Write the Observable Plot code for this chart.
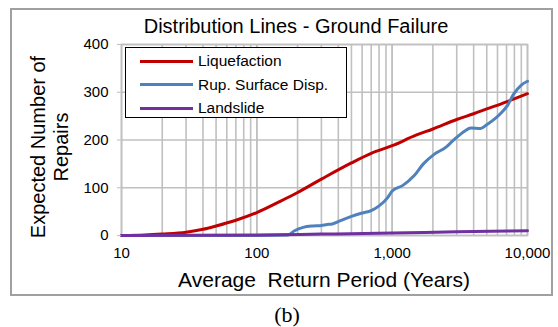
<!DOCTYPE html>
<html>
<head>
<meta charset="utf-8">
<script src="https://cdn.jsdelivr.net/npm/d3@7"></script>
<script src="https://cdn.jsdelivr.net/npm/@observablehq/plot@0.6"></script>
<style>
  body { margin:0; background:#fff; }
  #wrap { position:relative; width:558px; height:327px; font-family:"Liberation Sans", Arial, sans-serif; color:#000; }
  #wrap svg { position:absolute; left:0; top:0; }
  .abs { position:absolute; white-space:nowrap; }
</style>
</head>
<body>
<div id="wrap"></div>
<script>
// ---- data ----
const liqX = [10, 15, 20, 30, 40, 50, 70, 100, 150, 200, 300, 500, 700, 1000, 1500, 2000, 3000, 4000, 5000, 7000, 10000];
const liqY = [0, 1, 3, 7, 13, 20, 32, 48, 72, 90, 118, 152, 172, 188, 210, 223, 243, 255, 265, 280, 297];

const rsdX = [10, 100, 170, 190, 220, 260, 300, 330, 360, 415, 500, 600, 700, 800, 930, 1000, 1200, 1450, 1700, 2040, 2500, 2800, 3450, 3800, 4500, 5000, 5600, 6300, 7100, 7900, 9000, 10000];
const rsdY = [0, 0, 1, 10, 17, 20, 21, 23, 24, 31, 40, 47, 52, 62, 80, 93, 105, 125, 150, 170, 185, 198, 219, 225, 224, 232, 242, 255, 272, 296, 315, 323];

const lsX = [10, 100, 300, 1000, 3000, 10000];
const lsY = [0, 1, 3, 5, 8, 10];

const seriesNames = ["Liquefaction", "Rup. Surface Disp.", "Landslide"];
const seriesColors = ["#C00000", "#4F81BD", "#7030A0"];

const yTicks = [0, 100, 200, 300, 400];
const xTicks = [10, 100, 1000, 10000];

// ---- build table ----
const rows = [];
liqX.forEach((x, i) => rows.push({x, y: liqY[i], s: seriesNames[0]}));
rsdX.forEach((x, i) => rows.push({x, y: rsdY[i], s: seriesNames[1]}));
lsX.forEach((x, i) => rows.push({x, y: lsY[i], s: seriesNames[2]}));

const minor = [];
for (const d of [10, 100, 1000]) for (let k = 1; k <= 10; k++) minor.push(d * k);

const chart = Plot.plot({
  width: 558,
  height: 327,
  marginLeft: 121,
  marginRight: 31,
  marginTop: 44,
  marginBottom: 92,
  x: { type: "log", domain: [10, 10000] },
  y: { domain: [0, 400] },
  color: { domain: seriesNames, range: seriesColors },
  style: { fontFamily: "Liberation Sans, Arial, sans-serif", fontSize: "15px", color: "#000", background: "transparent" },
  marks: [
    Plot.ruleX(minor, { stroke: "#c0c0c0", strokeWidth: 1.6, strokeOpacity: 1 }),
    Plot.ruleY(yTicks, { stroke: "#c0c0c0", strokeWidth: 1.6, strokeOpacity: 1 }),
    Plot.frame({ stroke: "#c0c0c0", strokeWidth: 1.6 }),
    Plot.line(rows, { x: "x", y: "y", z: "s", stroke: "s", strokeWidth: 3, curve: "monotone-x" }),
    Plot.axisX({ ticks: xTicks, tickFormat: d3.format(","), tickSize: 0, tickPadding: 12, label: null }),
    Plot.axisY({ ticks: yTicks, tickSize: 4, tickPadding: 9, label: null, stroke: "#c0c0c0" })
  ]
});

const wrap = document.getElementById("wrap");
wrap.appendChild(chart);

function add(html, css) {
  const d = document.createElement("div");
  d.className = "abs";
  d.innerHTML = html;
  Object.assign(d.style, css);
  wrap.appendChild(d);
  return d;
}

// outer border
add("", { left: "10px", top: "8px", width: "539px", height: "284px", border: "2px solid #a0a0a0" });
// title
add("Distribution Lines - Ground Failure", { left: "0px", width: "592px", textAlign: "center", top: "14px", fontSize: "20px", lineHeight: "24px" });
// y label
add("Expected Number of<br>Repairs", { left: "50px", top: "147px", fontSize: "20px", textAlign: "center", lineHeight: "23px", transform: "translate(-50%,-50%) rotate(-90deg)" });
// x label
add("Average&nbsp;&nbsp;Return Period (Years)", { left: "0px", width: "648px", textAlign: "center", top: "268px", fontSize: "21px", lineHeight: "24px" });
// (b)
add("(b)", { left: "0px", width: "574px", textAlign: "center", top: "302px", fontSize: "22px", lineHeight: "26px", fontFamily: "'Liberation Serif', 'Times New Roman', serif" });

// legend
const leg = add("", { left: "125px", top: "47px", width: "222px", height: "71px", border: "1.5px solid #000", background: "#fff", boxSizing: "border-box" });
seriesNames.forEach((n, i) => {
  const row = document.createElement("div");
  Object.assign(row.style, { position: "absolute", left: "14px", top: (3 + i * 23.5) + "px", height: "20px", display: "flex", alignItems: "center", fontSize: "15.5px" });
  row.innerHTML = `<span style="display:inline-block;width:53px;height:3px;background:${seriesColors[i]};margin-right:5px"></span>${n}`;
  leg.appendChild(row);
});
</script>
</body>
</html>
